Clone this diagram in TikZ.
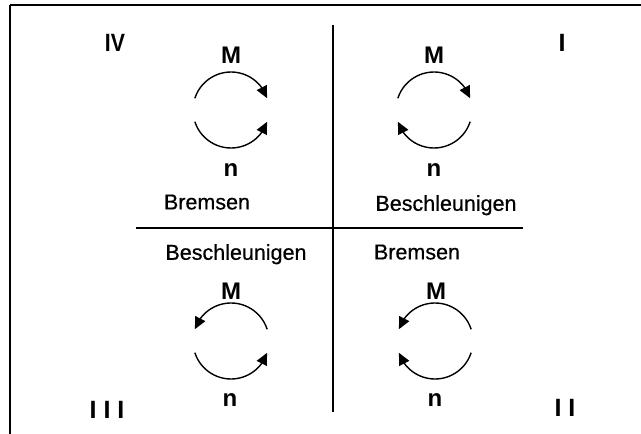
\documentclass[tikz,border=0pt]{standalone}
\usepackage{fontspec}
\setmainfont{Liberation Sans}
\usetikzlibrary{arrows.meta,bending}
\begin{document}
\begin{tikzpicture}[x=1pt,y=1pt,
  frame/.style={line width=1.3pt},
  topline/.style={line width=2pt},
  divider/.style={line width=2pt},
  cyc/.style={line width=1.4pt, -{Triangle[length=12pt,width=11pt]}},
  lbl/.style={inner sep=0pt, text depth=0pt, font=\fontsize{21.5}{25}\selectfont\addfontfeature{FakeBold=0.6}},
  var/.style={inner sep=0pt, text depth=0pt, font=\bfseries\fontsize{24}{28}\selectfont},
  quad/.style={inner sep=0pt, text depth=0pt, font=\bfseries\fontsize{25}{30}\selectfont}]
\useasboundingbox (0,0) rectangle (641,434);
% frame
\coordinate (ftl) at (10,429);
\coordinate (ftr) at (641,429);
\coordinate (fbl) at (10,0);
\draw[topline] (ftl) -- (ftr);
\draw[frame] (ftl) -- (fbl);
% dividers
\coordinate (vt) at (333,409);
\coordinate (vb) at (333,22);
\coordinate (hl) at (136,206);
\coordinate (hr) at (523,206);
\draw[divider] (vt) -- (vb);
\draw[divider] (hl) -- (hr);
% quadrant numerals
\node[quad] (q4) at (115,391) {\scalebox{0.85}[1]{IV}};
\node[quad] (q1) at (562,391) {I};
\node[quad] (q3) at (107,24) {I I I};
\node[quad] (q2) at (565,26) {I I};
% cycle centres
\coordinate (c1) at (434,324);
\coordinate (c4) at (231,324);
\coordinate (c3) at (231,93);
\coordinate (c2) at (435,93);
% quadrant IV
\draw[cyc] ([shift={(162:38)}]c4) arc[start angle=162,end angle=18,radius=38];
\draw[cyc] ([shift={(198:38)}]c4) arc[start angle=198,end angle=342,radius=38];
% quadrant I
\draw[cyc] ([shift={(162:38)}]c1) arc[start angle=162,end angle=18,radius=38];
\draw[cyc] ([shift={(342:38)}]c1) arc[start angle=342,end angle=198,radius=38];
% quadrant III
\draw[cyc] ([shift={(18:38)}]c3) arc[start angle=18,end angle=162,radius=38];
\draw[cyc] ([shift={(198:38)}]c3) arc[start angle=198,end angle=342,radius=38];
% quadrant II
\draw[cyc] ([shift={(18:38)}]c2) arc[start angle=18,end angle=162,radius=38];
\draw[cyc] ([shift={(342:38)}]c2) arc[start angle=342,end angle=198,radius=38];
% M and n labels
\node[var] (m4) at (231,379) {M};
\node[var] (n4) at (231,264) {n};
\node[var] (m1) at (434,379) {M};
\node[var] (n1) at (434,264) {n};
\node[var] (m3) at (231,143) {M};
\node[var] (n3) at (230,34) {n};
\node[var] (m2) at (436,143) {M};
\node[var] (n2) at (435,34) {n};
% mode labels
\node[lbl] (b4) at (207,232) {Bremsen};
\node[lbl] (a1) at (446,231) {Beschleunigen};
\node[lbl] (a3) at (236,182) {Beschleunigen};
\node[lbl] (b2) at (417,182) {Bremsen};
\end{tikzpicture}
\end{document}
